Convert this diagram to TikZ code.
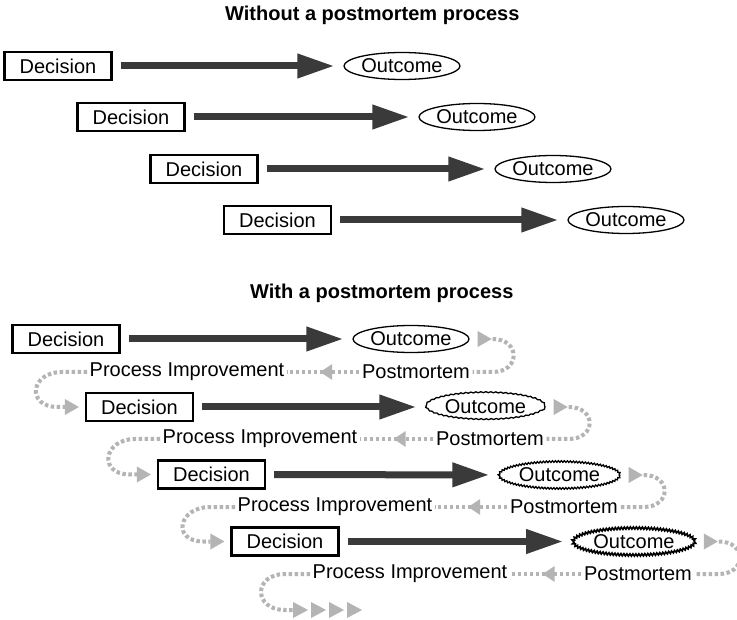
\documentclass[tikz,border=0pt]{standalone}
\usepackage{fontspec}
\setmainfont{Liberation Sans}
\usetikzlibrary{arrows.meta,shapes.geometric,decorations.pathmorphing,calc}
\definecolor{darkarrow}{HTML}{3A3A3A}
\definecolor{dotgray}{HTML}{B4B4B4}
\definecolor{trigray}{HTML}{B4B4B4}
\begin{document}
\begin{tikzpicture}[x=1pt,y=-1pt,font=\fontsize{20}{24}\selectfont,
  decbox/.style={draw, line width=2.2pt, minimum width=107pt, minimum height=28pt, inner sep=0pt},
  outc/.style={draw, ellipse, line width=1.3pt, minimum height=27pt, inner sep=0pt},
  lbl/.style={inner sep=2.5pt},
  bigarrow/.style={draw=darkarrow, line width=7pt, -{Triangle[length=37pt,width=23pt]}, shorten <=8pt, shorten >=9pt},
  graydot/.style={draw=dotgray, line width=4pt, dash pattern=on 3.5pt off 2.5pt},
  gtri/.style={fill=trigray},
  ttl/.style={font=\fontsize{20}{24}\selectfont\bfseries, anchor=west, inner sep=0pt}]
\useasboundingbox (0,0) rectangle (737,620);
\fill[white] (0,0) rectangle (737,620);

% titles
\node[ttl] (t1) at (225,15) {Without a postmortem process};
\node[ttl] (t2) at (250,293) {With a postmortem process};

% top section
\node[decbox] (d1) at (58,66) {Decision};
\node[outc, minimum width=116pt] (o1) at (402,66) {Outcome};
\node[decbox] (d2) at (131,117) {Decision};
\node[outc, minimum width=116pt] (o2) at (477,117) {Outcome};
\node[decbox] (d3) at (204,169) {Decision};
\node[outc, minimum width=116pt] (o3) at (553,169) {Outcome};
\node[decbox] (d4) at (277.5,220) {Decision};
\node[outc, minimum width=116pt] (o4) at (626,220) {Outcome};
\foreach \k in {1,2,3,4} \draw[bigarrow] (d\k) -- (o\k);

% bottom section
\node[decbox] (b1) at (66,339) {Decision};
\node[outc, minimum width=116pt] (q1) at (411,339) {Outcome};
\node[decbox] (b2) at (139.5,407) {Decision};
\node[outc, minimum width=119pt, decorate, decoration={snake, amplitude=0.5pt, segment length=5pt}] (q2) at (485.5,407) {Outcome};
\node[decbox] (b3) at (211.5,474.5) {Decision};
\node[outc, minimum width=121pt, decorate, decoration={zigzag, amplitude=0.8pt, segment length=3pt}] (q3) at (559.5,475) {Outcome};
\node[decbox] (b4) at (285,541.5) {Decision};
\node[outc, minimum width=122pt, line width=1.7pt, decorate, decoration={zigzag, amplitude=1.1pt, segment length=3pt}] (q4) at (634,541.5) {Outcome};

\node[lbl] (p1) at (416,372) {Postmortem};
\node[lbl] (p2) at (490,439) {Postmortem};
\node[lbl] (p3) at (564,507) {Postmortem};
\node[lbl] (p4) at (638,574) {Postmortem};
\node[lbl] (i1) at (187,372) {Process Improvement};
\node[lbl] (i2) at (260,439) {Process Improvement};
\node[lbl] (i3) at (335,507) {Process Improvement};
\node[lbl] (i4) at (410,574) {Process Improvement};

\foreach \k in {1,2,3,4} {
  \draw[bigarrow] (b\k) -- (q\k);
  % marker after outcome
  \fill[gtri] ($(q\k.east)+(22,0)$) -- ++(-14,-8) -- ++(0,16) -- cycle;
  % loop back to postmortem
  \draw[graydot] ($(q\k.east)+(23,0)$) coordinate (s\k)
     .. controls +(28,0) and +(28,0) .. (s\k|-p\k.east) -- (p\k.east);
  % postmortem to process improvement
  \draw[graydot] (p\k.west) -- (i\k.east);
  \fill[gtri] ($(p\k.west)!0.5!(i\k.east)+(-3,0)$) -- ++(12,-8) -- ++(0,16) -- cycle;
}

% process improvement to next decision
\foreach \k/\n in {1/2,2/3,3/4} {
  \draw[graydot] (i\k.west) -- ++(-25,0)
     .. controls +(-32,0) and +(-32,0) .. ($(b\n.west)+(-27,0)$) -- ($(b\n.west)+(-20,0)$);
  \fill[gtri] ($(b\n.west)+(-6,0)$) -- ++(-14,-8) -- ++(0,16) -- cycle;
}

% last loop to continuation markers
\draw[graydot] (i4.west) -- ++(-25,0)
   .. controls +(-32,0) and +(-32,0) .. ++(0,36) coordinate (e) -- ++(8,0);
\foreach \k in {0,1,2,3}
  \fill[gtri] ($(e)+(\k*18,0)+(23,0)$) -- ++(-15,-8) -- ++(0,16) -- cycle;
\end{tikzpicture}
\end{document}
